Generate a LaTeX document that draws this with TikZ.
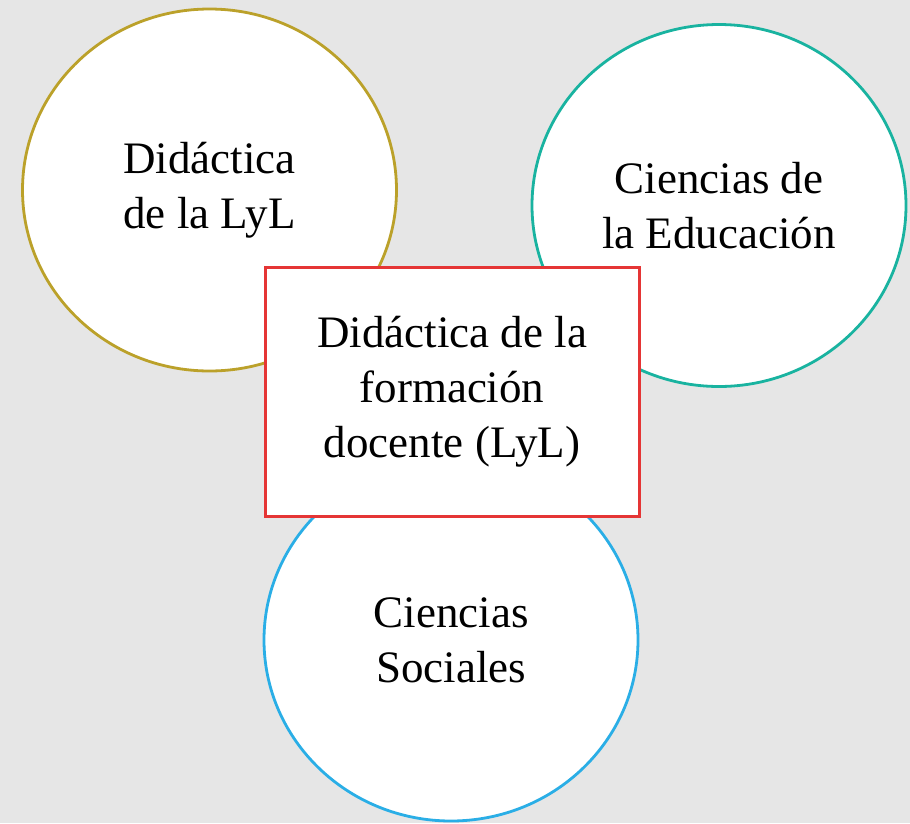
\documentclass[tikz,border=0pt]{standalone}
\usepackage{fontspec}
\setmainfont{Liberation Serif}
\usetikzlibrary{shapes.geometric}
\definecolor{bgc}{HTML}{E6E6E6}
\definecolor{goldc}{HTML}{BBA12A}
\definecolor{tealc}{HTML}{19B3A0}
\definecolor{bluec}{HTML}{2AAEE6}
\definecolor{redc}{HTML}{E53535}
\begin{document}
\begin{tikzpicture}[x=1pt,y=-1pt,
  circ/.style={ellipse, draw, fill=white, line width=2.8pt, minimum width=374pt, minimum height=362pt, inner sep=0pt, align=center, font=\fontsize{45}{55}\selectfont},
  centerbox/.style={rectangle, draw=redc, fill=white, line width=3pt, minimum width=374pt, minimum height=249pt, inner sep=0pt, align=center, font=\fontsize{45}{55}\selectfont}]
\fill[bgc] (0,0) rectangle (910,823);
\useasboundingbox (0,0) rectangle (910,823);
\node[circ, draw=goldc] (dl) at (209.5,190) {Didáctica\\de la LyL};
\node[circ, draw=tealc] (ce) at (719,205.5) {Ciencias de\\la Educación};
\node[circ, draw=bluec] (cs) at (451,640) {Ciencias\\Sociales};
\node[centerbox] (df) at (452,391.5) {Didáctica de la\\formación\\docente (LyL)};
\end{tikzpicture}
\end{document}
